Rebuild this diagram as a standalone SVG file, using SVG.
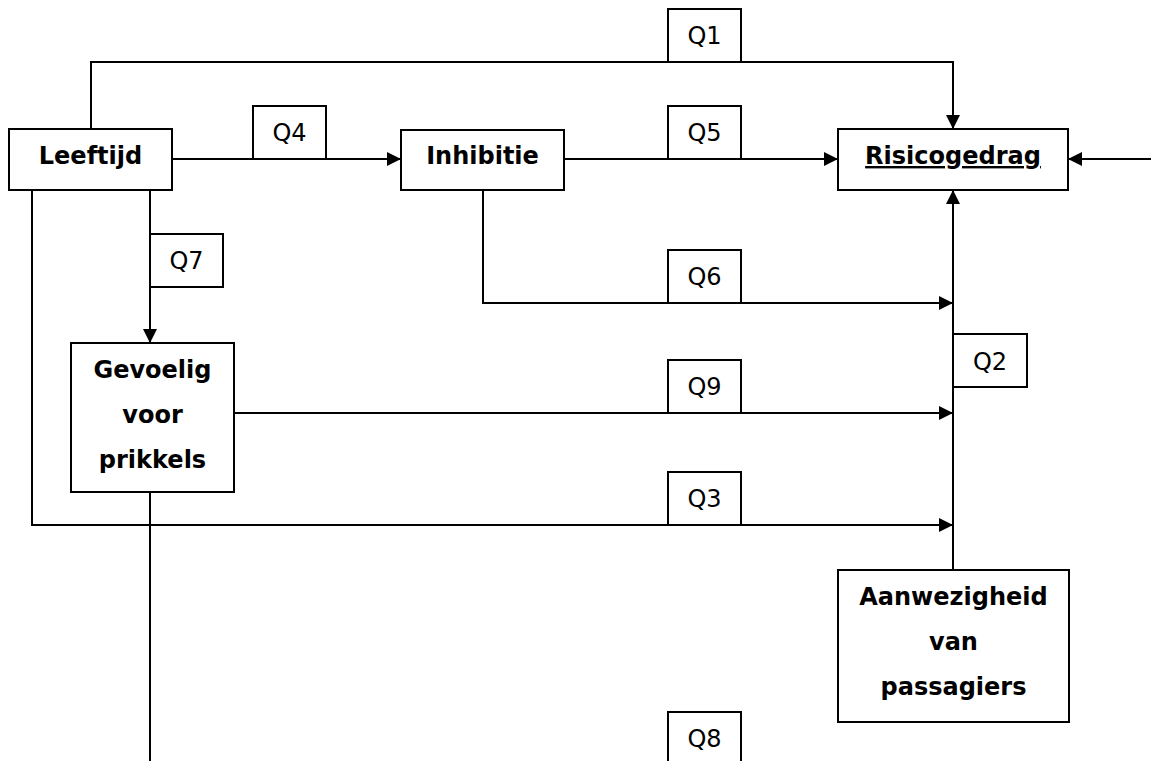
<svg xmlns="http://www.w3.org/2000/svg" width="1151" height="761" viewBox="0 0 1151 761">
<style>
.box{fill:#fff;stroke:#000;stroke-width:2}
.node{font-family:"DejaVu Sans","Liberation Sans",sans-serif;font-weight:bold;font-size:24px;text-anchor:middle;fill:#000}
.q{font-family:"DejaVu Sans","Liberation Sans",sans-serif;font-size:24px;text-anchor:middle;fill:#000}
.con{fill:none;stroke:#000;stroke-width:2}
</style>
<defs>
<marker id="arr" markerUnits="userSpaceOnUse" markerWidth="14" markerHeight="14" refX="14" refY="7" orient="auto">
<path d="M0,0 L14,7 L0,14 z" fill="#000"/>
</marker>
</defs>
<rect width="1151" height="761" fill="#fff"/>
<g id="connectors">
<path class="con" d="M91,129 V62 H953 V129" marker-end="url(#arr)"/>
<path class="con" d="M172,159 H401" marker-end="url(#arr)"/>
<path class="con" d="M564,159 H838" marker-end="url(#arr)"/>
<path class="con" d="M1151,159 H1068" marker-end="url(#arr)"/>
<path class="con" d="M483,190 V303 H953" marker-end="url(#arr)"/>
<path class="con" d="M150,190 V343" marker-end="url(#arr)"/>
<path class="con" d="M234,413 H953" marker-end="url(#arr)"/>
<path class="con" d="M32,190 V525 H953" marker-end="url(#arr)"/>
<path class="con" d="M953,570 V190" marker-end="url(#arr)"/>
<path class="con" d="M150,492 V761"/>
</g>
<g id="leeftijd">
<rect class="box" x="9" y="129" width="163" height="61"/>
<text class="node" x="90.5" y="164">Leeftijd</text>
</g>
<g id="inhibitie">
<rect class="box" x="401" y="130" width="163" height="60"/>
<text class="node" x="482.5" y="164">Inhibitie</text>
</g>
<g id="risicogedrag">
<rect class="box" x="838" y="129" width="230" height="61"/>
<text class="node" x="953" y="164" text-decoration="underline">Risicogedrag</text>
</g>
<g id="gevoelig">
<rect class="box" x="71" y="343" width="163" height="149"/>
<text class="node" x="152.5" y="378">Gevoelig</text>
<text class="node" x="152.5" y="423">voor</text>
<text class="node" x="152.5" y="468">prikkels</text>
</g>
<g id="aanwezigheid">
<rect class="box" x="838" y="570" width="231" height="152"/>
<text class="node" x="953.5" y="605">Aanwezigheid</text>
<text class="node" x="953.5" y="650">van</text>
<text class="node" x="953.5" y="695">passagiers</text>
</g>
<g id="q1"><rect class="box" x="668" y="9" width="73" height="53"/><text class="q" x="704.5" y="44">Q1</text></g>
<g id="q4"><rect class="box" x="253" y="106" width="73" height="53"/><text class="q" x="289.5" y="141">Q4</text></g>
<g id="q5"><rect class="box" x="668" y="106" width="73" height="53"/><text class="q" x="704.5" y="141">Q5</text></g>
<g id="q6"><rect class="box" x="668" y="250" width="73" height="53"/><text class="q" x="704.5" y="285">Q6</text></g>
<g id="q7"><rect class="box" x="150" y="234" width="73" height="53"/><text class="q" x="186.5" y="269">Q7</text></g>
<g id="q9"><rect class="box" x="668" y="360" width="73" height="53"/><text class="q" x="704.5" y="395">Q9</text></g>
<g id="q2"><rect class="box" x="953" y="334" width="74" height="53"/><text class="q" x="990" y="370">Q2</text></g>
<g id="q3"><rect class="box" x="668" y="472" width="73" height="53"/><text class="q" x="704.5" y="507">Q3</text></g>
<g id="q8"><rect class="box" x="668" y="712" width="73" height="53"/><text class="q" x="704.5" y="747">Q8</text></g>
</svg>
